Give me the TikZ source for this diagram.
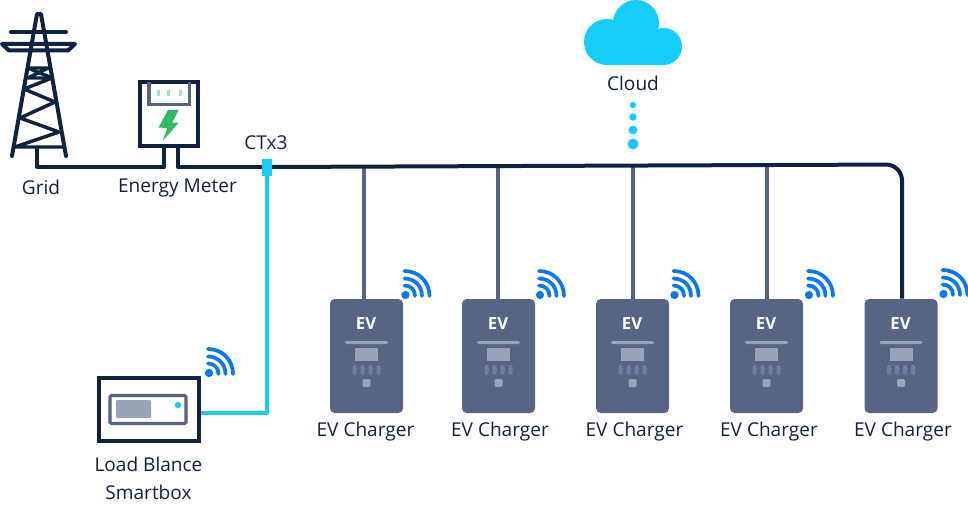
\documentclass[tikz,border=0pt]{standalone}
\usepackage{fontspec}
\setmainfont{Open Sans}
\definecolor{navy}{HTML}{0F2240}
\definecolor{sky}{HTML}{17CDF7}
\definecolor{wifiblue}{HTML}{0A78F5}
\definecolor{slate}{HTML}{586484}
\definecolor{slatelight}{HTML}{9AA3B8}
\definecolor{slatemid}{HTML}{737D99}
\definecolor{bolt}{HTML}{2DBD5F}
\definecolor{boltlight}{HTML}{A5E5C0}
\tikzset{
  wire/.style={draw=navy,line width=3pt,line join=round},
  towerline/.style={draw=navy,line width=3pt,line join=round,line cap=round},
  drop/.style={draw=slate,line width=2.4pt},
  link/.style={draw=sky,line width=3pt,line join=round},
  lbl/.style={text=navy,font=\fontsize{14.3}{17}\selectfont,inner sep=0pt,anchor=center},
  charger/.style={fill=slate,rounded corners=3.5pt,minimum width=54.75pt,minimum height=85.5pt,inner sep=0pt},
  meterbox/.style={draw=navy,line width=2.6pt,fill=white,minimum width=43.5pt,minimum height=48pt,inner sep=0pt},
  smartbox/.style={draw=navy,line width=3pt,fill=white,minimum width=75pt,minimum height=47.5pt,inner sep=0pt},
  ctnode/.style={fill=sky,minimum width=7.5pt,minimum height=12.75pt,inner sep=0pt},
  wifiarc/.style={draw=wifiblue,line width=2.8pt,line cap=round}
}
\newcommand{\wifimark}[2]{%
  \begin{scope}[shift={(#1,#2)}]
    \fill[wifiblue] (0,0) circle[radius=3.1pt];
    \foreach \r in {9.5,16.5,24}{
      \draw[wifiarc] (-1,-\r) .. controls ({.55*\r},-\r) and (\r,{-.55*\r}) .. (\r,1);
    }
  \end{scope}}
\newcommand{\chargerface}[1]{%
  \begin{scope}[shift={(#1,0)}]
    \node[text=white,font=\fontsize{12.5}{14}\bfseries\selectfont,inner sep=0pt] at (-0.5,324) {EV};
    \fill[slatelight,rounded corners=1pt] (-21.5,341) rectangle (21.5,344);
    \fill[slatelight] (-11.5,348) rectangle (11.5,361);
    \foreach \d in {-12,-4,4,12}{
      \fill[slatemid,rounded corners=1pt] ({\d-2},365) rectangle ({\d+2},375);
    }
    \fill[slatelight,rounded corners=1pt] (-4,379) rectangle (4,387);
  \end{scope}}
\begin{document}
\begin{tikzpicture}[x=0.75pt,y=-0.75pt]
\useasboundingbox (0,0) rectangle (968,506);
% tower
\coordinate (gridbase) at (37,147);
\draw[towerline] (12,156) -- (37,14) -- (41,14) -- (66,156);
\draw[towerline] (11,32) -- (66,32);
\draw[towerline] (2,44) -- (75,44) -- (68,50.5) -- (9,50.5) -- cycle;
\draw[navy,line width=2.6pt,line join=round] (29,68) -- (48,68) -- (28,78) -- (52,78) -- (24,89) -- (55,102) -- (20,118) -- (59,132) -- (15,147) -- (63,147);
\draw[navy,line width=2.6pt] (28,68) -- (52,78);
% meter
\node[meterbox] (meter) at (169,114) {};
\draw[slate,line width=2.4pt] (149,82) -- (149,104.5) -- (189.5,104.5) -- (189.5,82);
\foreach \x in {158,168.5,180}{\fill[boltlight] ({\x-1.5},90) rectangle ({\x+1.5},96);}
\fill[bolt] (168,110) -- (178.5,110) -- (172,123) -- (178.5,123) -- (162.5,141) -- (167.5,128) -- (158.5,127.5) -- cycle;
\coordinate (m1) at (164,147);
\coordinate (m2) at (178,147);
\coordinate (bend) at (902,165);
% chargers
\foreach \i/\cx/\tx in {1/366.5/364,2/498.5/498,3/632.5/633,4/766.5/767,5/901/902}{
  \node[charger] (c\i) at (\cx,356) {};
  \coordinate (t\i) at (\tx,166);
}
\foreach \i in {1,2,3,4}{\draw[drop] (t\i) -- (t\i |- c\i.north);}
% mains
\draw[wire] (gridbase) -- (37,167) -- (164,167) -- (m1);
\draw[wire] (m2) -- (178,167) -- (268,167);
\draw[wire,rounded corners=12pt] (268,167) -- (902,164.5) -- (c5.north -| bend);
% smartbox
\node[smartbox] (box) at (149,409.5) {};
\draw[slate,line width=2.4pt,rounded corners=1pt] (110,395.5) rectangle (186,423.5);
\fill[slatelight,rounded corners=0.8pt] (116,400) rectangle (151,418);
\fill[sky] (178,405) circle[radius=2.4pt];
% CT
\node[ctnode] (ct) at (267,167.5) {};
\draw[link] (ct.south) -- (ct.south |- 0,413) -- (box.east |- 0,413);
% chargers' faces
\chargerface{366.5}\chargerface{498.5}\chargerface{632.5}\chargerface{766.5}\chargerface{901}
% wifi
\wifimark{405.5}{295}\wifimark{540}{295}\wifimark{674.5}{295}\wifimark{809}{295}\wifimark{943.5}{294}
\wifimark{209}{373}
% cloud
\fill[sky] (607,42) circle[radius=17.25pt];
\fill[sky] (636,23) circle[radius=17.25pt];
\fill[sky] (663.5,46.5) circle[radius=13.9pt];
\fill[sky] (607,33) rectangle (664,65);
\foreach \y/\r in {105/2.3,117/2.8,130/3.3,144/4.1}{\fill[sky] (633,\y) circle[radius=\r pt];}
% labels
\node[lbl] (lgrid) at (41,187.5) {Grid};
\node[lbl] (lmeter) at (177.5,188) {Energy Meter};
\node[lbl] (lct) at (266,143) {CTx3};
\node[lbl] (lcloud) at (633,83) {Cloud};
\foreach \i/\x in {1/365.5,2/500,3/634.5,4/769,5/903}{\node[lbl] (lc\i) at (\x,431.5) {EV Charger};}
\node[lbl] (lbox1) at (148.5,464) {Load Blance};
\node[lbl] (lbox2) at (148.5,492) {Smartbox};
\end{tikzpicture}
\end{document}
